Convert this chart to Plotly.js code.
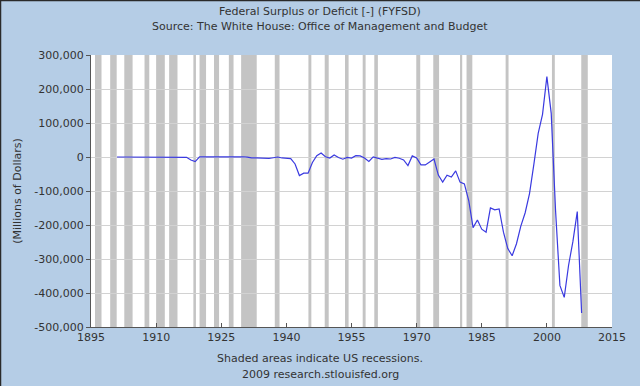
<!DOCTYPE html>
<html>
<head>
<meta charset="utf-8">
<script src="https://cdn.plot.ly/plotly-3.0.1.min.js"></script>
<style>html,body{margin:0;padding:0;background:#b5cde6;}#chart{width:640px;height:386px;}</style>
</head>
<body>
<div id="chart"></div>
<script>
// Fiscal years and surplus(+)/deficit(-) in millions of dollars
const years = [1901,1902,1903,1904,1905,1906,1907,1908,1909,1910,1911,1912,1913,1914,1915,1916,1917,1918,1919,1920,
1921,1922,1923,1924,1925,1926,1927,1928,1929,1930,1931,1932,1933,1934,1935,1936,1937,1938,1939,1940,
1941,1942,1943,1944,1945,1946,1947,1948,1949,1950,1951,1952,1953,1954,1955,1956,1957,1958,1959,1960,
1961,1962,1963,1964,1965,1966,1967,1968,1969,1970,1971,1972,1973,1974,1975,1976,1977,1978,1979,1980,
1981,1982,1983,1984,1985,1986,1987,1988,1989,1990,1991,1992,1993,1994,1995,1996,1997,1998,1999,2000,
2001,2002,2003,2004,2005,2006,2007,2008];
const surplus = [63,77,45,-43,-23,25,87,-57,-89,-18,11,3,0,0,-63,48,-853,-9032,-13363,291,
509,736,713,963,717,865,1155,939,734,738,-462,-2735,-2602,-3586,-2803,-4304,-2193,-89,-2846,-2920,
-4941,-20503,-54554,-47557,-47553,-15936,4018,11796,580,-3119,6102,-1519,-6493,-1154,-2993,3947,3412,-2769,-12849,301,
-3335,-7146,-4756,-5915,-1411,-3698,-8643,-25161,3242,-2842,-23033,-23373,-14908,-6135,-53242,-73732,-53659,-59185,-40726,-73830,
-78968,-127977,-207802,-185367,-212308,-221227,-149730,-155178,-152639,-221036,-269238,-290321,-255051,-203186,-163952,-107431,-21884,69270,125610,236241,
128236,-157758,-377585,-412727,-318346,-248181,-160701,-458553];

// US recessions (NBER), decimal years
const recStart = [1895.92,1899.42,1902.67,1907.33,1910.0,1913.0,1918.58,1920.0,1923.33,1926.75,1929.58,1937.33,1945.08,1948.83,1953.5,1957.58,1960.25,1969.92,1973.83,1980.0,1981.5,1990.5,2001.17,2007.92];
const recEnd   = [1897.42,1900.92,1904.58,1908.42,1912.0,1914.92,1919.17,1921.5,1924.5,1927.83,1933.17,1938.42,1945.75,1949.75,1954.33,1958.25,1961.08,1970.83,1975.17,1980.5,1982.83,1991.17,2001.83,2009.42];

const xTicks = [1895,1910,1925,1940,1955,1970,1985,2000,2015];
const yTicks = [300000,200000,100000,0,-100000,-200000,-300000,-400000,-500000];
const yTickText = ["300,000","200,000","100,000","0","-100,000","-200,000","-300,000","-400,000","-500,000"];

const titleLines = ['Federal Surplus or Deficit [-] (FYFSD)','Source: The White House: Office of Management and Budget'];
const noteLines = ['Shaded areas indicate US recessions.','2009 research.stlouisfed.org'];

const L=91, R=28, T=55, B=59, W=640, H=386;
const pw=W-L-R, ph=H-T-B;
const px = X => (X-L)/pw;          // pixel x -> paper x
const py = Y => (H-B-Y)/ph;        // pixel y -> paper y

const shapes = recStart.map((s,i)=>({type:'rect',xref:'x',yref:'paper',x0:s,x1:recEnd[i],y0:0,y1:1,
  fillcolor:'#c4c4c4',line:{width:0},layer:'below'}));
// outer frame on top and left edges
shapes.push({type:'line',xref:'paper',yref:'paper',x0:px(0.5),x1:px(0.5),y0:py(H),y1:py(0),line:{color:'#2a2a2a',width:1.5}});
shapes.push({type:'line',xref:'paper',yref:'paper',x0:px(0),x1:px(W),y0:py(0.5),y1:py(0.5),line:{color:'#2a2a2a',width:1.5}});

const ann = [];
[12,27].forEach((yy,i)=>ann.push({text:titleLines[i],xref:'paper',yref:'paper',x:px(320),y:py(yy),xanchor:'center',yanchor:'middle',showarrow:false,font:{size:11,color:'#333'}}));
[358,374].forEach((yy,i)=>ann.push({text:noteLines[i],xref:'paper',yref:'paper',x:px(320),y:py(yy),xanchor:'center',yanchor:'middle',showarrow:false,font:{size:11,color:'#333'}}));

const layout = {
  width:W,height:H,
  paper_bgcolor:'#b5cde6',plot_bgcolor:'#ffffff',
  margin:{l:L,r:R,t:T,b:B},
  font:{family:'DejaVu Sans, sans-serif',size:11,color:'#333333'},
  showlegend:false,
  xaxis:{range:[1895,2015],tickvals:xTicks,ticktext:xTicks.map(String),ticks:'inside',ticklen:4,tickcolor:'#555',
    showgrid:false,zeroline:false,showline:true,linecolor:'#555',linewidth:1,fixedrange:true,
    tickfont:{size:11,color:'#333'}},
  yaxis:{range:[-500000,300000],tickvals:yTicks,ticktext:yTickText,ticks:'outside',ticklen:4,tickcolor:'#555',
    showgrid:true,gridcolor:'#d2d2d2',gridwidth:1,zeroline:false,showline:true,linecolor:'#555',linewidth:1,
    title:{text:'(Millions of Dollars)',font:{size:11,color:'#333'},standoff:10},tickfont:{size:11,color:'#333'}},
  shapes:shapes,
  annotations:ann
};

const trace = {x:years,y:surplus,type:'scatter',mode:'lines',line:{color:'#3a3ae0',width:1.2},hoverinfo:'skip'};
Plotly.newPlot('chart',[trace],layout,{displayModeBar:false,staticPlot:true});
</script>
</body>
</html>
